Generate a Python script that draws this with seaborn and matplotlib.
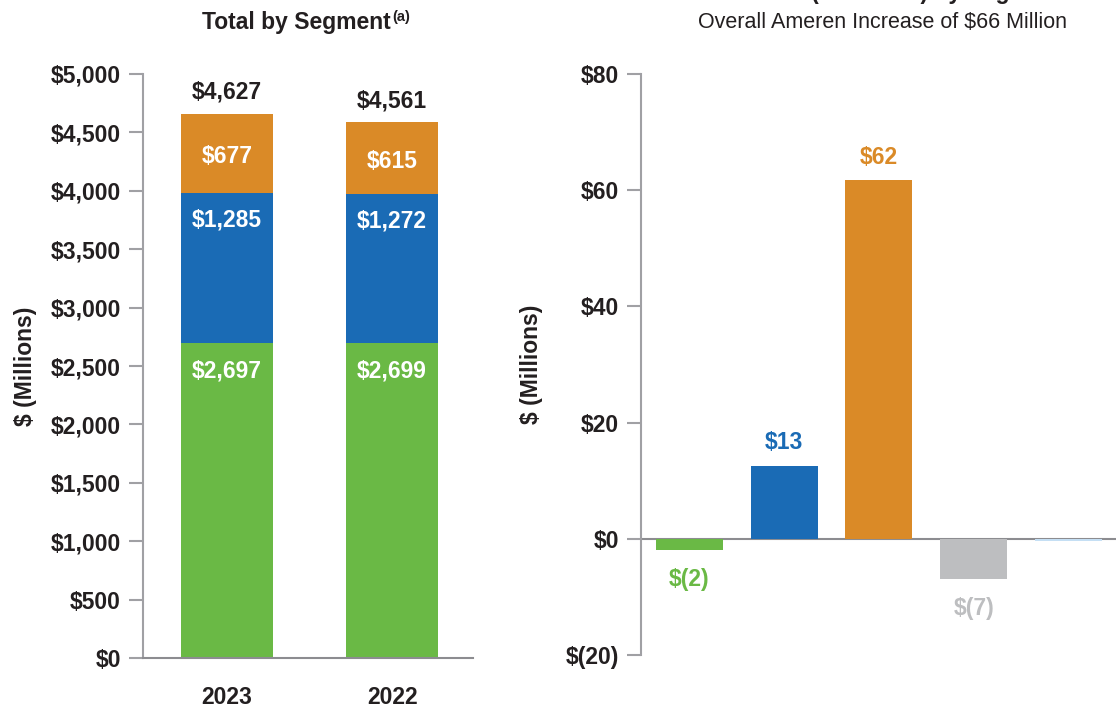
import numpy as np
import pandas as pd
import seaborn as sns
import matplotlib.pyplot as plt

# Dados do gráfico da esquerda (empilhado por segmento)
anos = ['2023', '2022']
seg_verde = [2697, 2699]
seg_azul = [1285, 1272]
seg_laranja = [677, 615]
totais = ['$4,627', '$4,561']

# Dados do gráfico da direita (variação por segmento)
segmentos = ['verde', 'azul', 'laranja', 'cinza', 'azul_claro']
variacao = [-2, 12.6, 61.7, -7, -0.3]
rotulos_var = ['$(2)', '$13', '$62', '$(7)', '']

VERDE = '#6ab945'
AZUL = '#1a6bb5'
LARANJA = '#da8a27'
CINZA = '#bdbec0'
AZUL_CLARO = '#c5dff4'
cores_var = [VERDE, AZUL, LARANJA, CINZA, AZUL_CLARO]
TEXTO = '#231f20'
EIXO = '#a0a0a4'
FS = 16.5

sns.set_style('white')
plt.rcParams['font.family'] = ['Liberation Sans Narrow', 'Liberation Sans', 'DejaVu Sans']

fig = plt.figure(figsize=(11.17, 7.07), dpi=100)
ax1 = fig.add_axes([143/1117, 1-658/707, 330/1117, 584/707])
ax2 = fig.add_axes([641/1117, 1-655/707, 475/1117, 581/707])

# --- esquerda: barras empilhadas (camadas acumuladas)
df = pd.DataFrame({'ano': anos, 'verde': seg_verde, 'azul': seg_azul, 'laranja': seg_laranja})
df['c_azul'] = df['verde'] + df['azul']
df['c_laranja'] = df['c_azul'] + df['laranja']

sns.barplot(data=df, x='ano', y='c_laranja', color=LARANJA, width=0.56, ax=ax1,
            saturation=1, linewidth=0)
sns.barplot(data=df, x='ano', y='c_azul', color=AZUL, width=0.56, ax=ax1,
            saturation=1, linewidth=0)
sns.barplot(data=df, x='ano', y='verde', color=VERDE, width=0.56, ax=ax1,
            saturation=1, linewidth=0)

ax1.set_xlim(-0.51, 1.49)
ax1.set_ylim(0, 5000)
ax1.set_yticks(np.arange(0, 5001, 500))
ax1.set_yticklabels(['${:,.0f}'.format(v) for v in np.arange(0, 5001, 500)])
ax1.set_xlabel('')
ax1.set_ylabel('$ (Millions)', fontsize=FS, fontweight='bold', color=TEXTO, labelpad=10)

for i, row in df.iterrows():
    ax1.text(i, row['c_laranja'] + 85, totais[i], ha='center', va='bottom',
             fontsize=FS, fontweight='bold', color=TEXTO)
    ax1.text(i, (row['c_azul'] + row['c_laranja']) / 2 - 25, '${:,}'.format(row['laranja']),
             ha='center', va='center', fontsize=FS, fontweight='bold', color='white')
    ax1.text(i, row['c_azul'] - 230, '${:,}'.format(row['azul']),
             ha='center', va='center', fontsize=FS, fontweight='bold', color='white')
    ax1.text(i, row['verde'] - 240, '${:,}'.format(row['verde']),
             ha='center', va='center', fontsize=FS, fontweight='bold', color='white')

# --- direita: variação
sns.barplot(x=segmentos, y=variacao, hue=segmentos, palette=cores_var, width=0.707,
            legend=False, ax=ax2, saturation=1, linewidth=0)
ax2.axhline(0, color='#8c8c90', lw=1.5, zorder=0.5)
ax2.set_xlim(-0.51, 4.5)
ax2.set_ylim(-20, 80)
ax2.set_yticks(np.arange(-20, 81, 20))
ax2.set_yticklabels(['$(20)', '$0', '$20', '$40', '$60', '$80'])
ax2.set_ylabel('$ (Millions)', fontsize=FS, fontweight='bold', color=TEXTO, labelpad=16)
for i, (v, r) in enumerate(zip(variacao, rotulos_var)):
    if not r:
        continue
    if v >= 0:
        ax2.text(i, v + 2.0, r, ha='center', va='bottom', fontsize=FS,
                 fontweight='bold', color=cores_var[i])
    else:
        ax2.text(i, v - 3, r, ha='center', va='top', fontsize=FS,
                 fontweight='bold', color=cores_var[i])

for ax in (ax1, ax2):
    for s in ['top', 'right']:
        ax.spines[s].set_visible(False)
    ax.spines['left'].set_color(EIXO)
    ax.spines['left'].set_linewidth(1.5)
    ax.tick_params(axis='y', length=10, width=1.5, color=EIXO, direction='out',
                   labelsize=FS, labelcolor=TEXTO, pad=6, left=True)
    for t in ax.get_yticklabels():
        t.set_fontweight('bold')

ax1.spines['bottom'].set_color('#8c8c90')
ax1.spines['bottom'].set_linewidth(1.5)
ax1.tick_params(axis='x', length=0, labelsize=FS, labelcolor=TEXTO, pad=20)
for t in ax1.get_xticklabels():
    t.set_fontweight('bold')
ax2.spines['bottom'].set_visible(False)
ax2.set_xticks([])

# títulos
titulo = fig.text(296/1117, 1-23/707, 'Total by Segment', ha='center', va='center',
                  fontsize=FS, fontweight='bold', color=TEXTO)
fig.text(0, 0, '(a)', ha='left', va='top', fontsize=10.5, fontweight='bold', color=TEXTO,
         transform=None).remove()
ax1.annotate('(a)', xy=(1.0, 1.05), xycoords=titulo, xytext=(1, 0), textcoords='offset points',
             ha='left', va='top', fontsize=10.5, fontweight='bold', color=TEXTO,
             annotation_clip=False)
fig.text(888/1117, 1 + 1/707, 'Increase (Decrease) by Segment', ha='center', va='baseline',
         fontsize=FS, fontweight='bold', color=TEXTO)
fig.text(882/1117, 1-22/707, 'Overall Ameren Increase of $66 Million', ha='center', va='center',
         fontsize=15.5, color=TEXTO)

fig.savefig('out.png', dpi=100)
